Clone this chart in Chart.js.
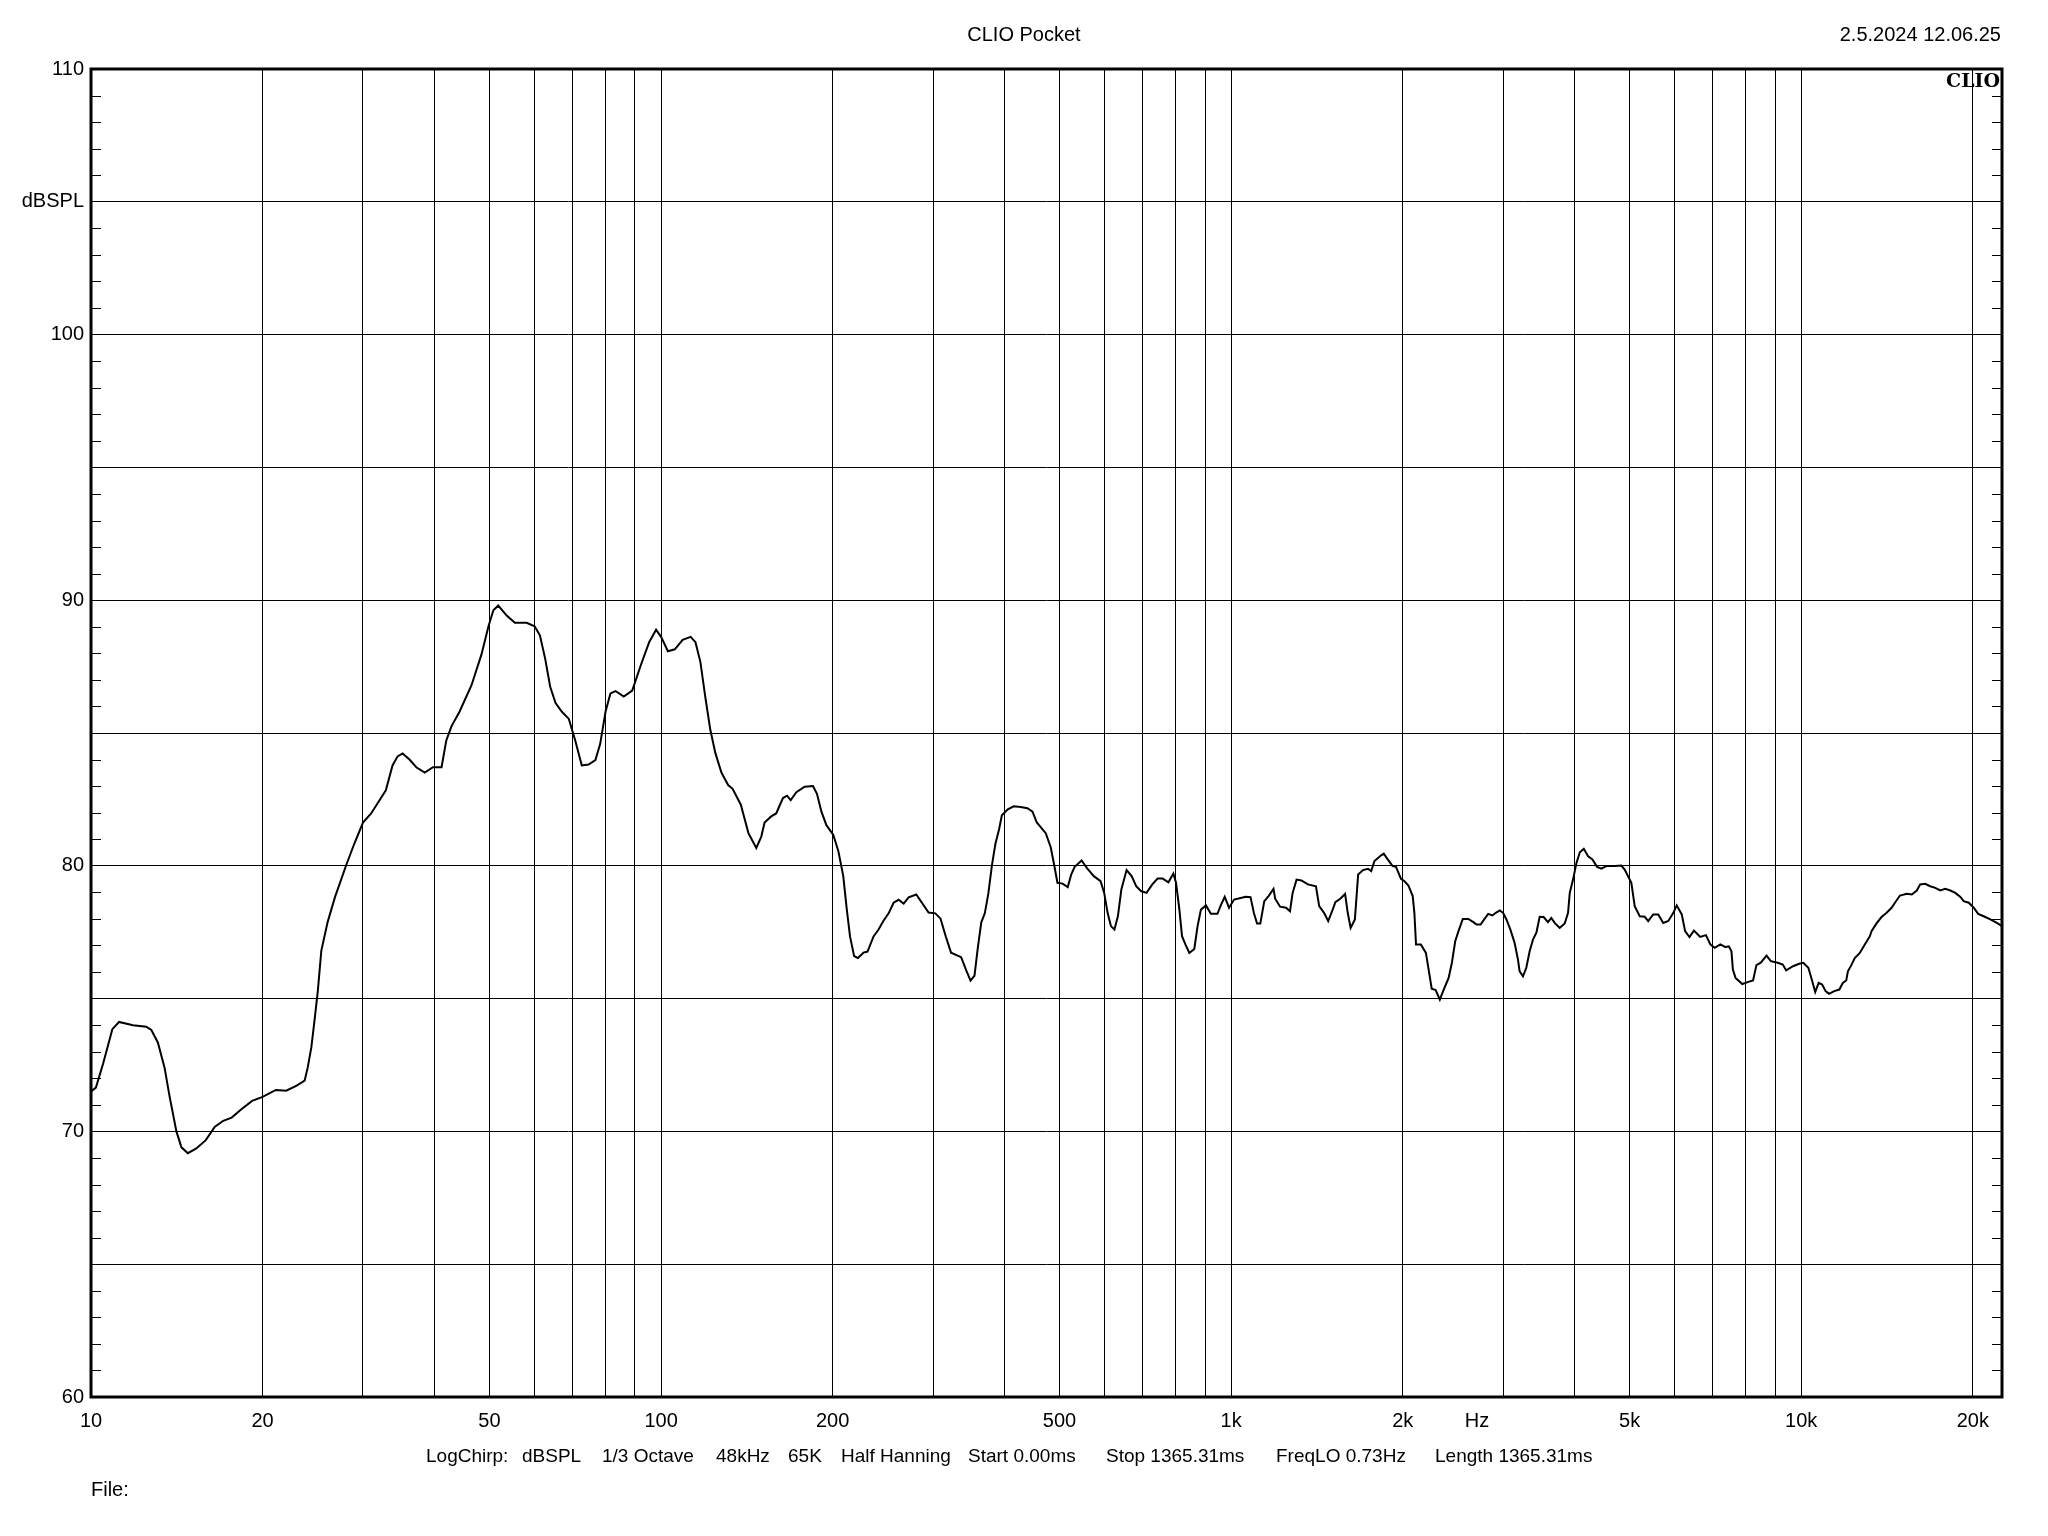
<!DOCTYPE html>
<html>

<head>
  <title>CLIO Pocket</title>
  <script src="https://cdn.jsdelivr.net/npm/chart.js"></script>
  <style>
    body { margin: 0; background: #fff; }
    #page { position: relative; width: 2048px; height: 1536px; font-family: "Liberation Sans", Arial, sans-serif; font-size: 20px; line-height: 20px; color: #000; }
    #page div { position: absolute; white-space: pre; }
    #page div.info { font-size: 19px; top: 1446px; }
    canvas { position: absolute; left: 0; top: 0; }
  </style>
</head>

<body>
  <div id="page">
    <canvas id="splChart" width="2048" height="1536"></canvas>
    <div style="left:0; width:2048px; text-align:center; top:24px;">CLIO Pocket</div>
    <div style="right:47px; top:24px;">2.5.2024 12.06.25</div>
    <div style="right:48px; top:70px; font-family:'DejaVu Serif', serif; font-weight:bold; font-size:19px;">CLIO</div>
    <div class="info" style="left:426px;">LogChirp:</div>
    <div class="info" style="left:522px;">dBSPL</div>
    <div class="info" style="left:602px;">1/3 Octave</div>
    <div class="info" style="left:716px;">48kHz</div>
    <div class="info" style="left:788px;">65K</div>
    <div class="info" style="left:841px;">Half Hanning</div>
    <div class="info" style="left:968px;">Start 0.00ms</div>
    <div class="info" style="left:1106px;">Stop 1365.31ms</div>
    <div class="info" style="left:1276px;">FreqLO 0.73Hz</div>
    <div class="info" style="left:1435px;">Length 1365.31ms</div>
    <div style="left:91px; top:1479px;">File:</div>
  </div>

  <script>
    // frequency response (Hz, dBSPL)
    const freqHz = [
      10, 10.2, 10.5, 10.9, 11.2, 11.85, 12.5, 12.76, 13.1, 13.46,
      13.74, 14.12, 14.41, 14.79, 15.3, 15.9, 16.48, 17.06, 17.65, 18.38,
      19.17, 20, 21.1, 22, 22.95, 23.7, 24, 24.35, 24.7, 25,
      25.35, 26, 26.78, 28.03, 28.96, 30, 31, 32.9, 33.8, 34.5,
      35.2, 36.2, 37.2, 38.5, 39.8, 41.2, 42, 42.9, 44.3, 46.5,
      48.4, 49.8, 50.8, 51.8, 53.6, 55.4, 58.1, 60, 61.3, 62.6,
      63.9, 65.3, 67, 68.9, 70.7, 72.6, 74.6, 76.7, 78.2, 79.9,
      81.5, 83.2, 86, 89, 92.1, 95.3, 98, 100, 102.8, 105.7,
      109.1, 112.7, 114.9, 117.2, 119.6, 122, 124.5, 127.6, 131.1, 133.5,
      138, 142.3, 146.9, 149.9, 151.9, 156, 159.2, 163.6, 166.3, 168.8,
      172.7, 178.6, 184.7, 187.7, 191.1, 195, 200.5, 204.6, 208.7, 211.6,
      214.5, 218.1, 221.4, 226.5, 230.2, 235.9, 240.7, 245.7, 250.7, 255.8,
      261, 266.4, 271.8, 280.3, 286.8, 294.6, 302.8, 309.2, 315.8, 322.6,
      336, 343, 349, 354.6, 359.5, 364.5, 369.7, 375, 380.5, 385.9,
      391.5, 396.1, 405.7, 415.6, 427.3, 439.2, 448.3, 456.1, 472.9, 482.5,
      489.1, 495.8, 506.2, 516.9, 524.1, 531.5, 546.6, 558.2, 574.1, 590.2,
      598.8, 607.1, 615.3, 624.1, 632.9, 641.8, 655.5, 669.1, 681.4, 694.7,
      710.5, 727.3, 742.9, 758.4, 776.2, 791.8, 800.4, 811.3, 820, 831.2,
      844.6, 861.7, 873.2, 885.1, 903.1, 921.4, 946.1, 959, 974.4, 991.5,
      1011.8, 1039.4, 1060.3, 1081.5, 1095.9, 1110.3, 1125.1, 1143.2, 1163.1, 1186.6,
      1194.6, 1218.6, 1248, 1268.2, 1281.9, 1302.3, 1328.1, 1363.5, 1408.5, 1427,
      1455.2, 1479.9, 1503.4, 1523.4, 1553.7, 1584.6, 1601.3, 1620.3, 1648.2, 1670.2,
      1703.6, 1737.6, 1760.6, 1784, 1831, 1852, 1882, 1920, 1946, 1986,
      2014, 2046, 2082, 2096, 2110, 2152, 2196, 2225, 2248, 2284,
      2323, 2354, 2407, 2439, 2472, 2505, 2549, 2607, 2660, 2695,
      2739, 2779, 2824, 2873, 2912, 2959, 2999, 3040, 3089, 3142,
      3185, 3206, 3250, 3294, 3339, 3384, 3431, 3477, 3533, 3595,
      3644, 3694, 3770, 3847, 3899, 3926, 3979, 4034, 4089, 4155,
      4228, 4303, 4384, 4462, 4553, 4708, 4836, 4901, 4967, 5035,
      5104, 5209, 5316, 5389, 5500, 5613, 5728, 5846, 5966, 6048,
      6172, 6256, 6367, 6483, 6649, 6806, 6927, 7051, 7214, 7362,
      7464, 7544, 7588, 7669, 7882, 8077, 8232, 8345, 8492, 8692,
      8846, 9093, 9282, 9410, 9674, 9918, 10082, 10292, 10435, 10582,
      10730, 10880, 11034, 11191, 11424, 11663, 11828, 11993, 12075, 12243,
      12414, 12669, 12928, 13196, 13283, 13554, 13830, 14117, 14405, 14601,
      14902, 15316, 15630, 15950, 16166, 16497, 16835, 17181, 17533, 17893,
      18261, 18636, 19018, 19276, 19673, 20075, 20438, 20895, 21460, 22039, 22500
    ];
    const splDb = [
      71.5, 71.65, 72.55, 73.85, 74.12, 74.0, 73.94, 73.82, 73.35, 72.4,
      71.3, 70.0, 69.4, 69.18, 69.36, 69.67, 70.17, 70.4, 70.52, 70.84,
      71.15, 71.3, 71.56, 71.53, 71.72, 71.91, 72.41, 73.16, 74.29, 75.3,
      76.8, 77.87, 78.81, 80.02, 80.83, 81.63, 81.97, 82.84, 83.78, 84.12,
      84.23, 84.0, 83.71, 83.51, 83.71, 83.71, 84.72, 85.26, 85.8, 86.8,
      87.95, 89.02, 89.62, 89.8, 89.42, 89.15, 89.15, 89.02, 88.68, 87.81,
      86.74, 86.13, 85.8, 85.53, 84.72, 83.78, 83.81, 83.98, 84.59, 85.8,
      86.49, 86.58, 86.37, 86.6, 87.54, 88.42, 88.89, 88.62, 88.08, 88.15,
      88.51, 88.62, 88.42, 87.68, 86.33, 85.12, 84.25, 83.51, 83.04, 82.9,
      82.3, 81.23, 80.67, 81.1, 81.63, 81.86, 81.97, 82.55, 82.64, 82.47,
      82.77, 82.98, 83.0, 82.71, 82.04, 81.53, 81.16, 80.56, 79.62, 78.41,
      77.34, 76.6, 76.53, 76.73, 76.77, 77.34, 77.6, 77.94, 78.21, 78.61,
      78.72, 78.58, 78.81, 78.92, 78.61, 78.24, 78.21, 78.01, 77.34, 76.73,
      76.56, 76.06, 75.68, 75.86, 76.93, 77.87, 78.21, 78.95, 80.02, 80.83,
      81.36, 81.9, 82.13, 82.24, 82.21, 82.17, 82.04, 81.63, 81.23, 80.7,
      80.05, 79.36, 79.33, 79.2, 79.67, 79.96, 80.2, 79.92, 79.61, 79.42,
      78.98, 78.23, 77.73, 77.6, 78.1, 79.11, 79.84, 79.61, 79.23, 79.05,
      78.98, 79.3, 79.52, 79.52, 79.38, 79.71, 79.36, 78.35, 77.35, 77.04,
      76.72, 76.87, 77.73, 78.35, 78.51, 78.19, 78.19, 78.51, 78.83, 78.42,
      78.73, 78.79, 78.83, 78.82, 78.23, 77.83, 77.83, 78.67, 78.86, 79.13,
      78.76, 78.46, 78.42, 78.29, 78.98, 79.48, 79.45, 79.3, 79.23, 78.48,
      78.23, 77.92, 78.29, 78.63, 78.76, 78.94, 78.23, 77.66, 77.98, 79.67,
      79.84, 79.89, 79.8, 80.18, 80.39, 80.46, 80.24, 79.99, 79.96, 79.51,
      79.42, 79.26, 78.86, 78.23, 77.04, 77.04, 76.72, 75.97, 75.37, 75.32,
      74.96, 75.28, 75.78, 76.35, 77.16, 77.54, 78.0, 78.0, 77.88, 77.79,
      77.79, 77.98, 78.19, 78.13, 78.23, 78.32, 78.23, 77.98, 77.6, 77.1,
      76.47, 76.03, 75.84, 76.16, 76.78, 77.22, 77.48, 78.08, 78.07, 77.88,
      78.04, 77.85, 77.66, 77.83, 78.23, 78.98, 79.49, 80.11, 80.51, 80.64,
      80.36, 80.24, 79.96, 79.89, 79.99, 79.99, 80.01, 79.86, 79.61, 79.36,
      78.48, 78.1, 78.08, 77.92, 78.17, 78.17, 77.85, 77.92, 78.23, 78.51,
      78.17, 77.54, 77.32, 77.56, 77.32, 77.39, 77.04, 76.91, 77.04, 76.94,
      76.97, 76.78, 76.09, 75.78, 75.55, 75.63, 75.68, 76.26, 76.35, 76.62,
      76.41, 76.35, 76.28, 76.06, 76.22, 76.31, 76.35, 76.16, 75.72, 75.25,
      75.59, 75.53, 75.28, 75.18, 75.28, 75.34, 75.59, 75.68, 76.03, 76.26,
      76.53, 76.72, 77.04, 77.35, 77.54, 77.83, 78.07, 78.23, 78.42, 78.61,
      78.88, 78.95, 78.92, 79.07, 79.3, 79.32, 79.23, 79.17, 79.07, 79.13,
      79.07, 78.98, 78.83, 78.67, 78.61, 78.42, 78.19, 78.1, 77.98, 77.85, 77.73
    ];

    // x axis: grid lines at every 1-2-...-9 step, labels only on some
    const xGridValues = [
      10, 20, 30, 40, 50, 60, 70, 80, 90,
      100, 200, 300, 400, 500, 600, 700, 800, 900,
      1000, 2000, 3000, 4000, 5000, 6000, 7000, 8000, 9000,
      10000, 20000
    ];
    const xLabelValues = [10, 20, 50, 100, 200, 500, 1000, 2000, 2700, 5000, 10000, 20000];
    const xLabelTexts = ['10', '20', '50', '100', '200', '500', '1k', '2k', 'Hz', '5k', '10k', '20k'];
    const xUnitValue = 2700; // where the "Hz" unit label sits

    // y axis labels
    const yLabelValues = [60, 70, 80, 90, 100, 105, 110];
    const yLabelTexts = ['60', '70', '80', '90', '100', 'dBSPL', '110'];

    const yMin = 60, yMax = 110;
    const xMin = 10, xMax = 22500;

    Chart.defaults.font.family = '"Liberation Sans", Arial, sans-serif';
    Chart.defaults.font.size = 20;
    Chart.defaults.color = '#000';

    // frame and small inside ticks on left/right edges
    const framePlugin = {
      id: 'frame',
      afterDraw(chart) {
        const { ctx, chartArea: a } = chart;
        const y = chart.scales.y;
        ctx.save();
        ctx.strokeStyle = '#000';
        ctx.lineWidth = 1;
        ctx.beginPath();
        y.ticks.forEach(t => {
          if (t.value % 5 === 0) return;
          const py = Math.round(y.getPixelForValue(t.value)) + 0.5;
          ctx.moveTo(a.left, py);
          ctx.lineTo(a.left + 10, py);
          ctx.moveTo(a.right - 10, py);
          ctx.lineTo(a.right, py);
        });
        ctx.stroke();
        ctx.lineWidth = 3;
        ctx.strokeRect(a.left, a.top, a.right - a.left, a.bottom - a.top);
        ctx.restore();
      }
    };

    const ctx = document.getElementById('splChart').getContext('2d');
    const splChart = new Chart(ctx, {
      type: 'line',
      data: {
        datasets: [
          {
            label: 'dBSPL',
            data: freqHz.map((f, i) => ({ x: f, y: splDb[i] })),
            borderColor: '#000',
            borderWidth: 2,
            pointRadius: 0,
            tension: 0,
            fill: false,
          }
        ]
      },
      options: {
        responsive: false,
        animation: false,
        devicePixelRatio: 1,
        layout: {
          padding: { top: 69, right: 46, bottom: 0, left: 0 }
        },
        plugins: {
          legend: { display: false },
          tooltip: { enabled: false },
        },
        scales: {
          x: {
            type: 'logarithmic',
            min: xMin,
            max: xMax,
            afterBuildTicks: function (scale) {
              const vals = xGridValues.concat([xUnitValue]).sort((a, b) => a - b);
              scale.ticks = vals.map(v => ({ value: v }));
            },
            afterFit: function (scale) {
              scale.height = 139;
            },
            border: { display: false },
            grid: {
              drawTicks: false,
              lineWidth: 1,
              color: function (c) {
                const v = c.tick ? c.tick.value : 0;
                return (v === xUnitValue || v === xMin) ? 'rgba(0,0,0,0)' : '#000';
              },
            },
            ticks: {
              autoSkip: false,
              maxRotation: 0,
              padding: 12,
              callback: function (value) {
                const i = xLabelValues.indexOf(value);
                return i >= 0 ? xLabelTexts[i] : '';
              }
            }
          },
          y: {
            type: 'linear',
            min: yMin,
            max: yMax,
            afterBuildTicks: function (scale) {
              const t = [];
              for (let v = yMin; v <= yMax; v++) t.push({ value: v });
              scale.ticks = t;
            },
            afterFit: function (scale) {
              scale.width = 91;
            },
            border: { display: false },
            grid: {
              drawTicks: false,
              lineWidth: 1,
              color: function (c) {
                const v = c.tick ? c.tick.value : 0;
                return (v % 5 === 0 && v !== yMin && v !== yMax) ? '#000' : 'rgba(0,0,0,0)';
              },
            },
            ticks: {
              autoSkip: false,
              padding: 7,
              callback: function (value) {
                const i = yLabelValues.indexOf(value);
                return i >= 0 ? yLabelTexts[i] : '';
              }
            }
          }
        }
      },
      plugins: [framePlugin]
    });
  </script>
</body>

</html>
